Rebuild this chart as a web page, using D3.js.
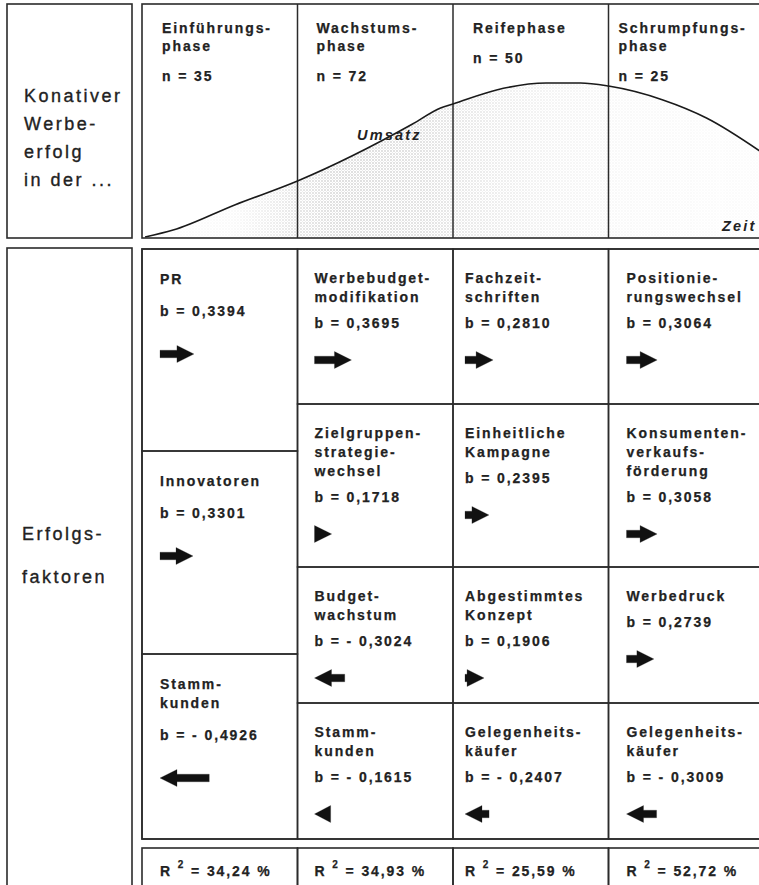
<!DOCTYPE html>
<html>
<head>
<meta charset="utf-8">
<script src="https://cdn.jsdelivr.net/npm/d3@7"></script>
<style>
  body { margin: 0; background: #fff; }
  svg { display: block; }
  text { fill: #222; font-family: "Liberation Sans", Arial, sans-serif; }
  .zelle { font-size: 14px; font-weight: bold; letter-spacing: 1.9px; stroke: #222; stroke-width: 0.25px; }
  .seite { font-size: 18px; letter-spacing: 2.5px; stroke: #222; stroke-width: 0.35px; }
  .kursiv { font-size: 14.5px; font-weight: bold; font-style: italic; letter-spacing: 2.2px; }
</style>
</head>
<body>
<div id="chart"></div>
<script>
// Phasen im Produktlebenszyklus
const phasen = ["Einführungs-|phase", "Wachstums-|phase", "Reifephase", "Schrumpfungs-|phase"];
const phasenN = [35, 72, 50, 25];

// Umsatzkurve (Zeit in Phasen-Einheiten, Umsatz relativ)
const umsatzZeit = [0.02, 0.2, 0.6, 1.0, 1.74, 1.92, 2.0, 2.28, 2.6, 2.82, 3.0, 3.35, 3.63, 4.0];
const umsatzWert = [0, 4.5, 21, 36.4, 73.4, 83.8, 86.4, 95.5, 100, 100, 98, 89, 77.3, 54];

// Erfolgsfaktoren je Phase
const faktorPhase = [0, 0, 0, 1, 1, 1, 1, 2, 2, 2, 2, 3, 3, 3, 3];
const faktorNamen = ["PR", "Innovatoren", "Stamm-|kunden",
  "Werbebudget-|modifikation", "Zielgruppen-|strategie-|wechsel", "Budget-|wachstum", "Stamm-|kunden",
  "Fachzeit-|schriften", "Einheitliche|Kampagne", "Abgestimmtes|Konzept", "Gelegenheits-|käufer",
  "Positionie-|rungswechsel", "Konsumenten-|verkaufs-|förderung", "Werbedruck", "Gelegenheits-|käufer"];
const faktorB = [0.3394, 0.3301, -0.4926,
  0.3695, 0.1718, -0.3024, -0.1615,
  0.2810, 0.2395, 0.1906, -0.2407,
  0.3064, 0.3058, 0.2739, -0.3009];

const rQuadrat = [34.24, 34.93, 25.59, 52.72];

const seiteOben = ["Konativer", "Werbe-", "erfolg", "in der ..."];
const seiteUnten = ["Erfolgs-", "faktoren"];

const W = 759, H = 885;
const svg = d3.select("#chart").append("svg")
    .attr("width", W)
    .attr("height", H);

const linie = "#2b2b2b";
const komma = v => v.replace(".", ",");

// Spalten (Phasen)
const x = d3.scaleLinear().domain([0, 4]).range([142, 764]);
const y = d3.scaleLinear().domain([0, 100]).range([237, 83]);

// --- Oberer Teil -------------------------------------------------------
const defs = svg.append("defs");
const pat = defs.append("pattern")
    .attr("id", "punkte")
    .attr("width", 3).attr("height", 3)
    .attr("patternUnits", "userSpaceOnUse");
pat.append("circle").attr("cx", 1).attr("cy", 1).attr("r", 0.7).attr("fill", "#999");
pat.append("circle").attr("cx", 2.5).attr("cy", 2.5).attr("r", 0.4).attr("fill", "#c4c4c4");

const grad = defs.append("linearGradient")
    .attr("id", "dichte")
    .attr("gradientUnits", "userSpaceOnUse")
    .attr("x1", x(0)).attr("x2", x(4)).attr("y1", 0).attr("y2", 0);
[[0, 0.04], [0.15, 0.15], [0.25, 0.65], [0.32, 0.85], [0.45, 0.75], [0.55, 0.5], [0.65, 0.3], [0.78, 0.15], [1, 0.08]]
  .forEach(s => grad.append("stop").attr("offset", s[0]).attr("stop-color", "#fff").attr("stop-opacity", s[1]));
defs.append("mask").attr("id", "maske")
  .append("rect").attr("x", 0).attr("y", 0).attr("width", W).attr("height", H).attr("fill", "url(#dichte)");

const kurve = umsatzZeit.map((t, i) => [t, umsatzWert[i]]);

svg.append("path")
    .datum(kurve)
    .attr("d", d3.area().x(d => x(d[0])).y0(y(0)).y1(d => y(d[1])).curve(d3.curveMonotoneX))
    .attr("fill", "url(#punkte)")
    .attr("mask", "url(#maske)");

// Phasengrenzen
svg.append("g").selectAll("line")
  .data([1, 2, 3])
  .join("line")
    .attr("x1", d => x(d)).attr("x2", d => x(d))
    .attr("y1", 4).attr("y2", 238)
    .attr("stroke", linie).attr("stroke-width", 1.5);

svg.append("path")
    .datum(kurve)
    .attr("d", d3.line().x(d => x(d[0])).y(d => y(d[1])).curve(d3.curveMonotoneX))
    .attr("fill", "none")
    .attr("stroke", "#1a1a1a")
    .attr("stroke-width", 1.6);

// Rahmen oben
svg.append("rect").attr("x", 7).attr("y", 4).attr("width", 125).attr("height", 234)
    .attr("fill", "none").attr("stroke", linie).attr("stroke-width", 1.6);
svg.append("rect").attr("x", x(0)).attr("y", 4).attr("width", x(4) - x(0)).attr("height", 234)
    .attr("fill", "none").attr("stroke", linie).attr("stroke-width", 1.6);

// Phasenkopf
const kopfEinzug = [20, 19, 20, 10];
phasen.forEach((p, i) => {
  const zeilen = p.split("|");
  const g = svg.append("g").attr("class", "zelle");
  zeilen.forEach((z, j) => {
    g.append("text").attr("x", x(i) + kopfEinzug[i]).attr("y", 33 + j * 18).text(z);
  });
  g.append("text").attr("x", x(i) + kopfEinzug[i]).attr("y", 33 + (zeilen.length - 1) * 18 + 30)
    .text("n = " + phasenN[i]);
});

svg.append("text").attr("class", "kursiv").attr("x", 357).attr("y", 140).text("Umsatz");
svg.append("text").attr("class", "kursiv").attr("x", 722).attr("y", 231).text("Zeit");

seiteOben.forEach((s, i) => {
  svg.append("text").attr("class", "seite").attr("x", 24).attr("y", 102 + i * 28).text(s);
});

// --- Unterer Teil ------------------------------------------------------
svg.append("rect").attr("x", 7).attr("y", 248).attr("width", 125).attr("height", 660)
    .attr("fill", "none").attr("stroke", linie).attr("stroke-width", 1.6);
seiteUnten.forEach((s, i) => {
  svg.append("text").attr("class", "seite").attr("x", 22).attr("y", 540 + i * 43).text(s);
});

// Zeilenaufteilung: erste Spalte drei Felder, sonst vier
const gridTop = 249, gridBottom = 839;
const zeilenGrenzen = [[249, 451, 654, 839], [249, 404, 567, 703, 839]];
const textEinzug = [18, 17, 12, 18];

const laenge = d3.scaleLinear().domain([0, 0.5]).range([0, 50]);

function pfeil(g, x0, cy, b) {
  const L = Math.max(15, laenge(Math.abs(b)));
  const kopf = Math.min(17, L);
  const pts = [[0, -3.8], [L - kopf, -3.8], [L - kopf, -8.5], [L, 0], [L - kopf, 8.5], [L - kopf, 3.8], [0, 3.8]];
  const t = b >= 0 ? `translate(${x0},${cy})` : `translate(${x0 + L},${cy}) scale(-1,1)`;
  g.append("path")
    .attr("d", L - kopf < 1 ? d3.line()([[0, -8.5], [L, 0], [0, 8.5]]) + "Z" : d3.line()(pts) + "Z")
    .attr("transform", t)
    .attr("fill", "#111");
}

const zaehler = [0, 0, 0, 0];
faktorNamen.forEach((name, k) => {
  const p = faktorPhase[k];
  const r = zaehler[p]++;
  const grenzen = zeilenGrenzen[p === 0 ? 0 : 1];
  const top = grenzen[r], bottom = grenzen[r + 1];
  const erste = p === 0;
  const g = svg.append("g").attr("class", "zelle");

  g.append("rect").attr("x", x(p)).attr("y", top).attr("width", x(p + 1) - x(p)).attr("height", bottom - top)
    .attr("fill", "none").attr("stroke", linie).attr("stroke-width", 1.5);

  const tx = x(p) + textEinzug[p];
  const zeilen = name.split("|");
  let yy = top + (erste ? 35 : 34);
  zeilen.forEach((z, j) => {
    g.append("text").attr("x", tx).attr("y", yy + j * 19).text(z);
  });
  yy += (zeilen.length - 1) * 19 + (erste ? 32 : 26);
  const b = faktorB[k];
  g.append("text").attr("x", tx).attr("y", yy)
    .text("b = " + (b < 0 ? "- " : "") + komma(d3.format(".4f")(Math.abs(b))));
  pfeil(g, tx, yy + (erste ? 38 : 32), b);
});

svg.append("rect").attr("x", x(0)).attr("y", gridTop).attr("width", x(4) - x(0)).attr("height", gridBottom - gridTop)
    .attr("fill", "none").attr("stroke", linie).attr("stroke-width", 1.6);

// Bestimmtheitsmaß
rQuadrat.forEach((r, i) => {
  const g = svg.append("g").attr("class", "zelle");
  g.append("rect").attr("x", x(i)).attr("y", 848).attr("width", x(i + 1) - x(i)).attr("height", 60)
    .attr("fill", "none").attr("stroke", linie).attr("stroke-width", 1.6);
  const t = g.append("text").attr("x", x(i) + textEinzug[i]).attr("y", 876);
  t.append("tspan").text("R ");
  t.append("tspan").attr("dy", -8).style("font-size", "10px").text("2");
  t.append("tspan").attr("dy", 8).text(" = " + komma(d3.format(".2f")(r)) + " %");
});
</script>
</body>
</html>
